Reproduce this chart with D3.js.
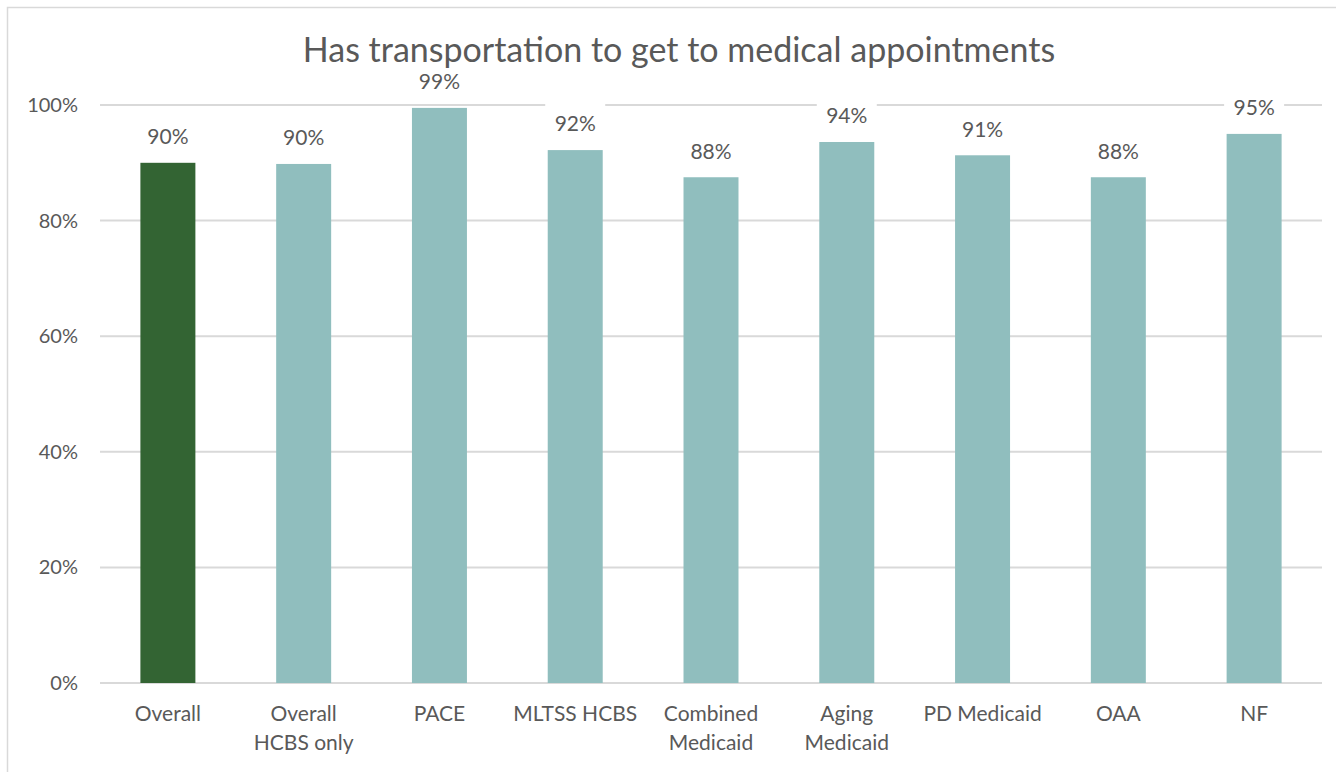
<!DOCTYPE html>
<html>
<head>
<meta charset="utf-8">
<script src="https://cdn.jsdelivr.net/npm/d3@7"></script>
<style>
  body { margin: 0; background: #fff; }
  text { font-family: Lato, "Open Sans", sans-serif; fill: #595959; }
</style>
</head>
<body>
<div class="chart"></div>
<script>
var categories = ["Overall", "Overall|HCBS only", "PACE", "MLTSS HCBS", "Combined|Medicaid",
                  "Aging|Medicaid", "PD Medicaid", "OAA", "NF"];
var values = [0.90, 0.898, 0.995, 0.922, 0.875, 0.936, 0.913, 0.875, 0.95];
var valueLabels = ["90%", "90%", "99%", "92%", "88%", "94%", "91%", "88%", "95%"];
var yTicks = [0, 0.2, 0.4, 0.6, 0.8, 1.0];
var title = "Has transportation to get to medical appointments";

var svgWidth = 1336;
var svgHeight = 772;
var margin = { top: 105, right: 14, bottom: 89, left: 100 };
var width = svgWidth - margin.left - margin.right;
var height = svgHeight - margin.top - margin.bottom;

var svg = d3.select(".chart")
  .append("svg")
  .attr("width", svgWidth)
  .attr("height", svgHeight);

// outer chart border
svg.append("rect")
  .attr("x", 7.5).attr("y", 7.5)
  .attr("width", 1340).attr("height", 800)
  .attr("fill", "none")
  .attr("stroke", "#d9d9d9")
  .attr("stroke-width", 1.5);

var chart = svg.append("g")
  .attr("transform", `translate(${margin.left}, ${margin.top})`);

var xScale = d3.scaleBand()
  .domain(categories)
  .range([0, width])
  .paddingInner(0.595)
  .paddingOuter(0.2975);

var yScale = d3.scaleLinear().domain([0, 1]).range([height, 0]);

// gridlines
chart.selectAll(".grid")
  .data(yTicks)
  .enter().append("line")
  .attr("class", "grid")
  .attr("x1", 0).attr("x2", width)
  .attr("y1", d => yScale(d)).attr("y2", d => yScale(d))
  .attr("stroke", "#d9d9d9")
  .attr("stroke-width", 2);

// y axis labels
var leftAxis = d3.axisLeft(yScale)
  .tickValues(yTicks)
  .tickFormat(d3.format(".0%"))
  .tickSize(0)
  .tickPadding(22);
var yAxis = chart.append("g").call(leftAxis);
yAxis.select(".domain").remove();
yAxis.selectAll("text").style("font-size", "20px").attr("fill", "#595959").style("font-family", null);

// bars
chart.selectAll(".bar")
  .data(values)
  .enter().append("rect")
  .attr("class", "bar")
  .attr("x", (d, i) => xScale(categories[i]))
  .attr("y", d => yScale(d))
  .attr("width", xScale.bandwidth())
  .attr("height", d => height - yScale(d))
  .attr("fill", (d, i) => i === 0 ? "#336433" : "#90bebe");

// value labels with white boxes
var labels = chart.selectAll(".vlabel")
  .data(values)
  .enter().append("g")
  .attr("class", "vlabel")
  .attr("transform", (d, i) => `translate(${xScale(categories[i]) + xScale.bandwidth() / 2}, ${yScale(d) - 26})`);

labels.append("rect")
  .attr("x", -30).attr("y", -21)
  .attr("width", 60).attr("height", 42)
  .attr("fill", "#fff");

labels.append("text")
  .attr("text-anchor", "middle")
  .attr("dy", "0.35em")
  .style("font-size", "21px")
  .text((d, i) => valueLabels[i]);

// x axis category labels
var bottomAxis = d3.axisBottom(xScale).tickSize(0).tickFormat("");
var xAxis = chart.append("g")
  .attr("transform", `translate(0, ${height})`)
  .call(bottomAxis);
xAxis.select(".domain").remove();

var catText = chart.selectAll(".cat")
  .data(categories)
  .enter().append("text")
  .attr("class", "cat")
  .attr("x", d => xScale(d) + xScale.bandwidth() / 2)
  .attr("y", height + 38)
  .attr("text-anchor", "middle")
  .style("font-size", "21px");

catText.each(function(d) {
  var lines = d.split("|");
  var t = d3.select(this);
  lines.forEach(function(line, j) {
    t.append("tspan")
      .attr("x", t.attr("x"))
      .attr("dy", j === 0 ? 0 : 29)
      .text(line);
  });
});

// title drawn last so label boxes never cover it
svg.append("text")
  .attr("x", 679)
  .attr("y", 62)
  .attr("text-anchor", "middle")
  .style("font-size", "34px")
  .text(title);
</script>
</body>
</html>
